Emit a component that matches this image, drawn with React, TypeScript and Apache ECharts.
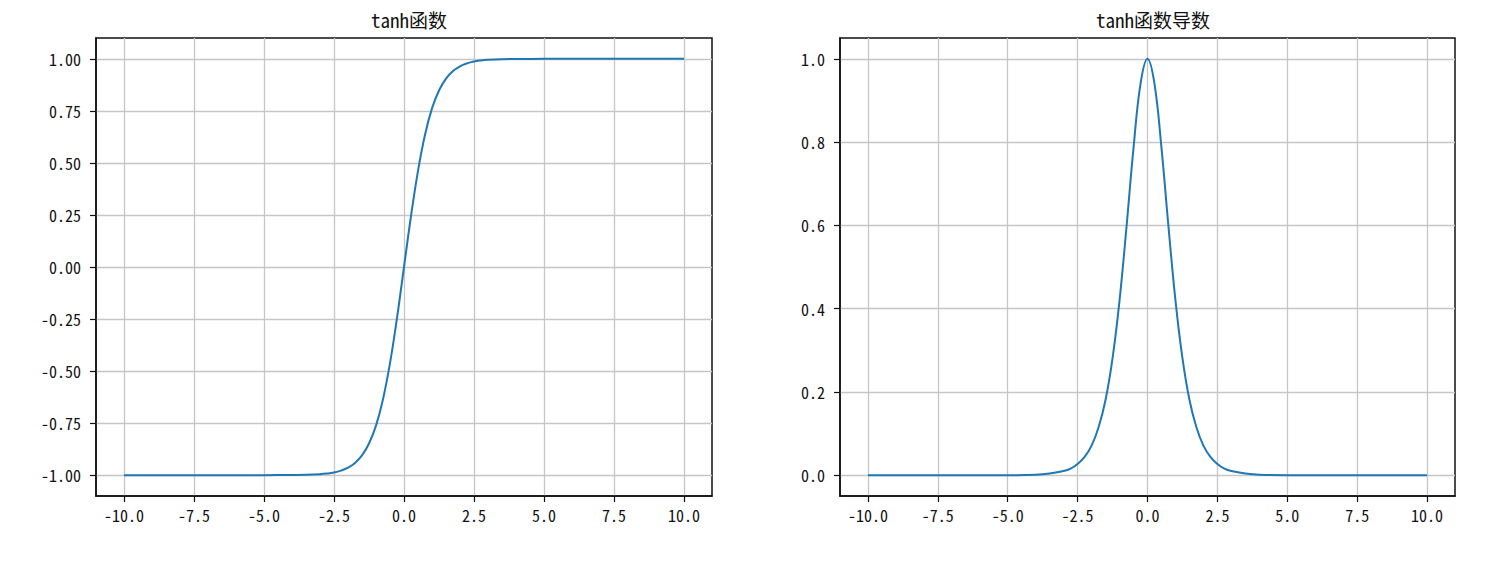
import React, { useEffect, useRef } from "react";
import * as echarts from "echarts";

const xs = [-10, -5, -4, -3.5, -3, -2.75, -2.5, -2.25, -2, -1.75, -1.5, -1.25, -1, -0.75, -0.5, -0.25, 0,
  0.25, 0.5, 0.75, 1, 1.25, 1.5, 1.75, 2, 2.25, 2.5, 2.75, 3, 3.5, 4, 5, 10];
const tanhValues = [-1.0, -1.0, -0.999, -0.998, -0.995, -0.992, -0.987, -0.978, -0.964, -0.941, -0.905, -0.848, -0.762, -0.635, -0.462, -0.245, 0,
  0.245, 0.462, 0.635, 0.762, 0.848, 0.905, 0.941, 0.964, 0.978, 0.987, 0.992, 0.995, 0.998, 0.999, 1.0, 1.0];
const derivValues = [0.0, 0.0, 0.001, 0.004, 0.01, 0.016, 0.027, 0.044, 0.071, 0.115, 0.181, 0.281, 0.42, 0.597, 0.786, 0.94, 1.0,
  0.94, 0.786, 0.597, 0.42, 0.281, 0.181, 0.115, 0.071, 0.044, 0.027, 0.016, 0.01, 0.004, 0.001, 0.0, 0.0];

const xTicks = [-10, -7.5, -5, -2.5, 0, 2.5, 5, 7.5, 10];
const yTicksLeft = [-1, -0.75, -0.5, -0.25, 0, 0.25, 0.5, 0.75, 1];
const yTicksRight = [0, 0.2, 0.4, 0.6, 0.8, 1.0];
const titles = ["tanh函数", "tanh函数导数"];

const FONT = "'Noto Sans Mono CJK SC', 'Noto Sans CJK SC', 'DejaVu Sans Mono', monospace";
const gridColor = "#c6c6c6";
const frameColor = "#111";

function xAxisCfg(gridIndex: number) {
  return {
    type: "value",
    gridIndex,
    min: -11,
    max: 11,
    axisLine: { show: true, onZero: false, lineStyle: { color: frameColor, width: 1.5 } },
    axisTick: { show: true, customValues: xTicks, length: 6, lineStyle: { color: frameColor, width: 1.2 } },
    axisLabel: {
      customValues: xTicks,
      formatter: (v: number) => v.toFixed(1),
      color: "#111",
      fontSize: 16,
      fontFamily: FONT,
      margin: 11,
    },
    splitLine: { show: true, lineStyle: { color: gridColor, width: 1.3 } },
  };
}

function yAxisCfg(gridIndex: number, min: number, max: number, ticks: number[], digits: number) {
  return {
    type: "value",
    gridIndex,
    min,
    max,
    axisLine: { show: true, onZero: false, lineStyle: { color: frameColor, width: 1.5 } },
    axisTick: { show: true, customValues: ticks, length: 6, lineStyle: { color: frameColor, width: 1.2 } },
    axisLabel: {
      customValues: ticks,
      formatter: (v: number) => v.toFixed(digits),
      color: "#111",
      fontSize: 16,
      fontFamily: FONT,
      margin: 15,
    },
    splitLine: { show: true, lineStyle: { color: gridColor, width: 1.3 } },
  };
}

export default function App() {
  const ref = useRef<HTMLDivElement>(null);
  useEffect(() => {
    if (!ref.current) return;
    const chart = echarts.init(ref.current, undefined, { renderer: "svg" });
    const titleStyle = { fontSize: 19, fontWeight: "normal", color: "#111", fontFamily: FONT };
    const option = {
      animation: false,
      backgroundColor: "#fff",
      title: [
        { text: titles[0], left: 404, top: 5, textAlign: "center", textStyle: titleStyle },
        { text: titles[1], left: 1148, top: 5, textAlign: "center", textStyle: titleStyle },
      ],
      grid: [
        { left: 96, top: 38, width: 616, height: 458, show: true, borderColor: frameColor, borderWidth: 1.5, containLabel: false },
        { left: 840, top: 38, width: 615, height: 458, show: true, borderColor: frameColor, borderWidth: 1.5, containLabel: false },
      ],
      xAxis: [xAxisCfg(0), xAxisCfg(1)],
      yAxis: [yAxisCfg(0, -1.1, 1.1, yTicksLeft, 2), yAxisCfg(1, -0.05, 1.05, yTicksRight, 1)],
      series: [
        {
          type: "line",
          xAxisIndex: 0,
          yAxisIndex: 0,
          data: xs.map((x, i) => [x, tanhValues[i]]),
          showSymbol: false,
          smooth: 0.4,
          lineStyle: { color: "#1f77b4", width: 2 },
        },
        {
          type: "line",
          xAxisIndex: 1,
          yAxisIndex: 1,
          data: xs.map((x, i) => [x, derivValues[i]]),
          showSymbol: false,
          smooth: 0.4,
          lineStyle: { color: "#1f77b4", width: 2 },
        },
      ],
    };
    chart.setOption(option as any);
    return () => chart.dispose();
  }, []);
  return <div ref={ref} style={{ position: "fixed", left: 0, top: 0, width: 1500, height: 562 }} />;
}
